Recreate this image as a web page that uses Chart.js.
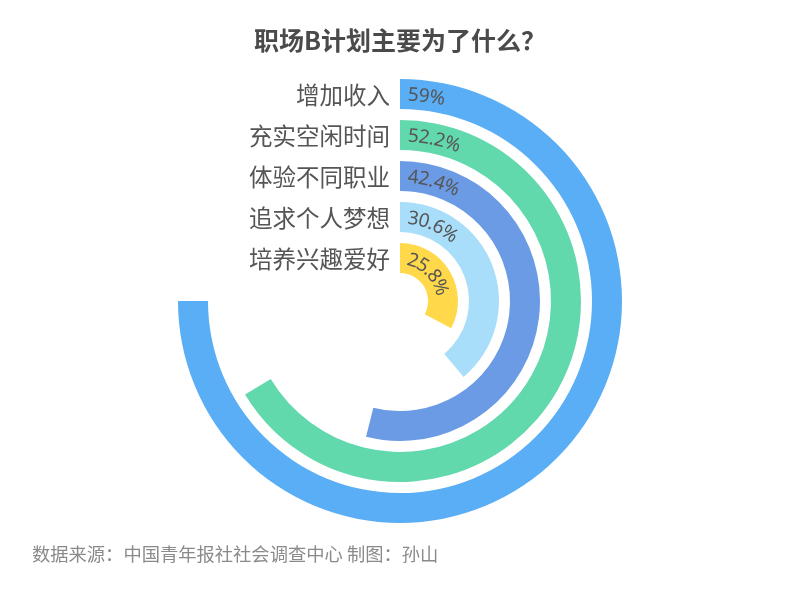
<!DOCTYPE html>
<html>
<head>
<meta charset="utf-8">
<script src="https://cdn.jsdelivr.net/npm/chart.js@4.4.0/dist/chart.umd.min.js"></script>
<style>
  body { margin: 0; background: #fff; }
  #wrap { position: relative; width: 800px; height: 604px; }
  #title { position: absolute; left: 0; width: 800px; top: 21px; text-align: center;
    font: bold 25px "Noto Sans CJK SC", sans-serif; color: #4a4a4a; }
  #source { position: absolute; left: 32px; top: 540px;
    font: 18.3px "Noto Sans CJK SC", sans-serif; color: #8a8a8a; }
</style>
</head>
<body>
<div id="wrap">
  <canvas id="myChart"></canvas>
  <div id="title">职场B计划主要为了什么？</div>
  <div id="source">数据来源：中国青年报社社会调查中心 制图：孙山</div>
</div>
<script>
// categories, outermost ring first
let labels = ['增加收入', '充实空闲时间', '体验不同职业', '追求个人梦想', '培养兴趣爱好'];
let values = [59, 52.2, 42.4, 30.6, 25.8];
let colorHex = ['#5aaef5', '#62d9ad', '#6c9be6', '#a8defa', '#ffd94a'];

const maxVal = Math.max(...values);

// one ring per category, thin empty rings in between to make the gaps
let datasets = [];
values.forEach(function (v, i) {
  if (i > 0) datasets.push({ data: [], weight: 11, gap: true });
  datasets.push({
    data: [v, maxVal - v],
    backgroundColor: [colorHex[i], 'rgba(0,0,0,0)'],
    weight: 30,
    ring: i
  });
});

// category names on the left, percentages bent along each ring
const ringText = {
  id: 'ringText',
  afterDatasetsDraw(chart) {
    const ctx = chart.ctx;
    chart.data.datasets.forEach(function (ds, di) {
      if (ds.gap) return;
      const arc = chart.getDatasetMeta(di).data[0];
      const p = arc.getProps(['x', 'y', 'startAngle', 'innerRadius', 'outerRadius']);
      const r = (p.innerRadius + p.outerRadius) / 2;

      ctx.save();
      ctx.fillStyle = '#555';
      ctx.font = '23.5px "Noto Sans CJK SC", sans-serif';
      ctx.textAlign = 'right';
      ctx.textBaseline = 'middle';
      ctx.fillText(labels[ds.ring], p.x - 10, p.y - r + 1);

      ctx.font = '19px "Noto Sans", sans-serif';
      ctx.textAlign = 'center';
      let s = 8;
      const txt = ds.data[0] + '%';
      for (const ch of txt) {
        const w = ctx.measureText(ch).width;
        const a = p.startAngle + (s + w / 2) / r;
        ctx.save();
        ctx.translate(p.x + r * Math.cos(a), p.y + r * Math.sin(a));
        ctx.rotate(a + Math.PI / 2);
        ctx.fillText(ch, 0, 1);
        ctx.restore();
        s += w;
      }
      ctx.restore();
    });
  }
};

let ctx = document.getElementById('myChart').getContext('2d');
let myChart = new Chart(ctx, {
  type: 'doughnut',
  data: { labels: labels, datasets: datasets },
  options: {
    responsive: true,
    maintainAspectRatio: false,
    animation: false,
    circumference: 270,
    rotation: 0,
    cutout: 28,
    borderWidth: 0,
    layout: { padding: { top: 79, bottom: 81, left: 0, right: 0 } },
    plugins: {
      legend: { display: false },
      tooltip: { enabled: false }
    }
  },
  plugins: [ringText]
});
</script>
</body>
</html>
